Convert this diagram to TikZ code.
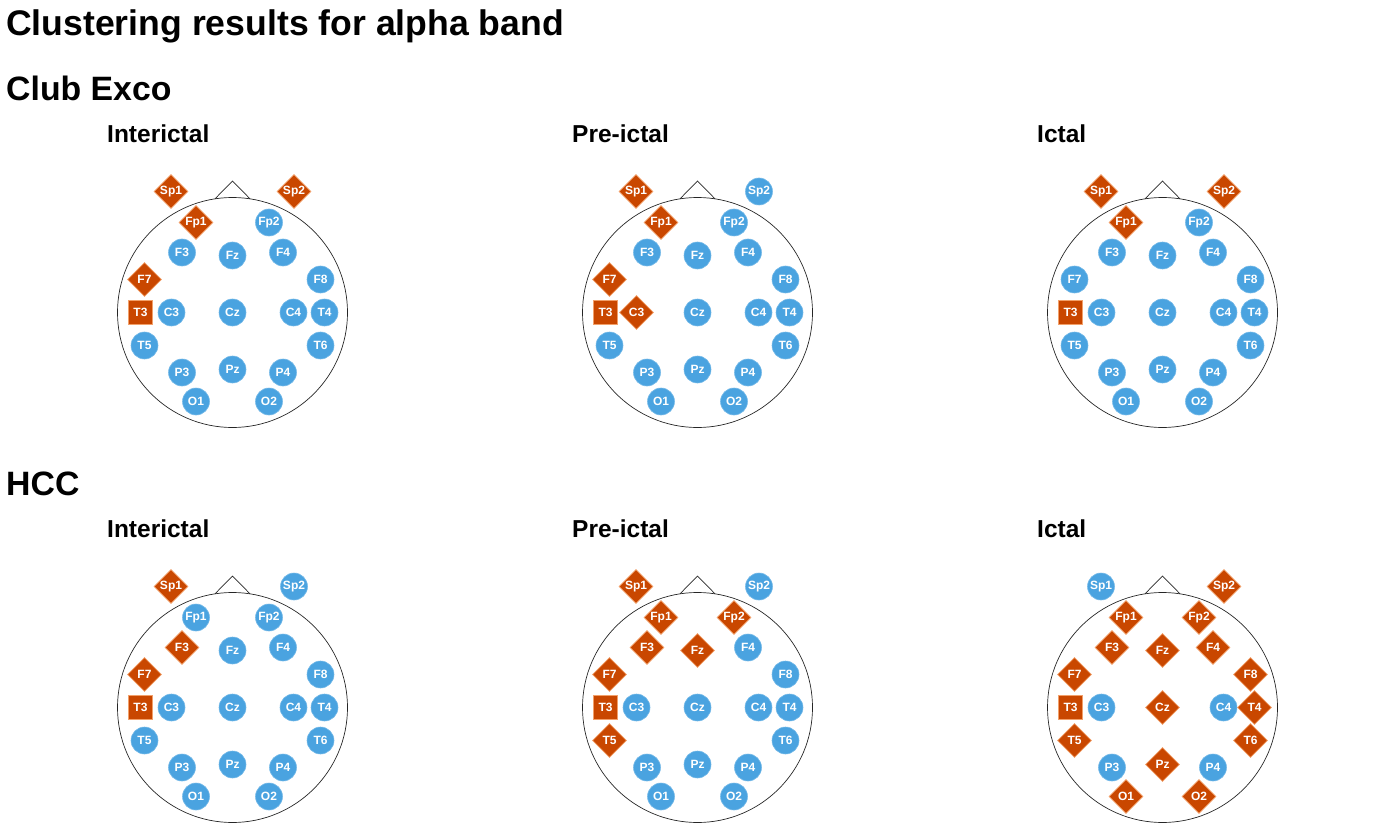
\documentclass[tikz,border=0pt]{standalone}
\usepackage{fontspec}
\setmainfont{Liberation Sans}
\usepackage{tikz}
\usetikzlibrary{shapes.geometric}
\definecolor{eblue}{HTML}{4AA3E0}
\definecolor{ered}{HTML}{C94700}
\definecolor{eredrim}{HTML}{F2A06A}
\tikzset{
  headln/.style     = {black!85, line width=0.7pt},
  elabel/.style     = {text=white, inner sep=0pt, font=\bfseries\fontsize{12}{12}\selectfont},
  ecirc/.style      = {elabel, circle, fill=eblue, draw=eblue!75!white, line width=0.6pt, minimum size=27pt},
  edia/.style       = {elabel, diamond, aspect=1, fill=ered, draw=eredrim, line width=0.6pt, minimum size=34pt},
  esq/.style        = {elabel, rectangle, fill=ered, draw=eredrim, line width=0.6pt, minimum size=24pt},
  maintitle/.style  = {anchor=base west, inner sep=0pt, font=\bfseries\fontsize{35.6}{40}\selectfont},
  grouptitle/.style = {anchor=base west, inner sep=0pt, font=\bfseries\fontsize{33.8}{38}\selectfont},
  phasetitle/.style = {anchor=base west, inner sep=0pt, font=\bfseries\fontsize{24.5}{28}\selectfont}
}
% electrode sites, relative to the head centre
\newcommand{\eegsites}{Sp1/-61.5/-121, Sp2/61.5/-121, Fp1/-36.5/-90, Fp2/36.5/-90,
  F3/-50.5/-60, Fz/0/-57, F4/50.5/-60, F7/-88/-33, F8/88/-33,
  T3/-92/0, C3/-61/0, Cz/0/0, C4/61/0, T4/92/0, T5/-88/33, T6/88/33,
  P3/-50.5/60, Pz/0/57, P4/50.5/60, O1/-36.5/89, O2/36.5/89}
% #1 name, #2 #3 centre, #4 blue sites, #5 diamond sites
\newcommand{\eeghead}[5]{%
  \begin{scope}[shift={(#2,#3)}]
    \draw[headln] (0,0) circle (115pt);
    \draw[headln] (-17.5,-113.7) -- (0,-131.5) -- (17.5,-113.7);
    \foreach \e/\ex/\ey in \eegsites
      \coordinate (#1\e) at (\ex,\ey);
  \end{scope}
  \foreach \e in {#4} \node[ecirc] (#1n\e) at (#1\e) {\e};
  \foreach \e in {#5} \node[edia] (#1n\e) at (#1\e) {\e};
  \node[esq] (#1nT3) at (#1T3) {T3};
}

\begin{document}
\begin{tikzpicture}[x=1pt,y=-1pt]
  \useasboundingbox (0,0) rectangle (1395,837);
  % headings
  \node[maintitle] (title) at (6,36) {Clustering results for alpha band};
  \node[grouptitle] (club) at (6,101) {Club Exco};
  \node[grouptitle] (hcc) at (6,495) {HCC};
  \node[phasetitle] (clubinter) at (107,142.5) {Interictal};
  \node[phasetitle] (clubpre) at (572,142.5) {Pre-ictal};
  \node[phasetitle] (clubictal) at (1037,142.5) {Ictal};
  \node[phasetitle] (hccinter) at (107,537) {Interictal};
  \node[phasetitle] (hccpre) at (572,537) {Pre-ictal};
  \node[phasetitle] (hccictal) at (1037,537) {Ictal};
  % Club Exco
  \eeghead{ca}{232.5}{312.5}
    {Fp2,F3,Fz,F4,F8,C3,Cz,C4,T4,T5,T6,P3,Pz,P4,O1,O2}
    {Sp1,Sp2,Fp1,F7}
  \eeghead{cb}{697.5}{312.5}
    {Sp2,Fp2,F3,Fz,F4,F8,Cz,C4,T4,T5,T6,P3,Pz,P4,O1,O2}
    {Sp1,Fp1,F7,C3}
  \eeghead{cc}{1162.5}{312.5}
    {Fp2,F3,Fz,F4,F7,F8,C3,Cz,C4,T4,T5,T6,P3,Pz,P4,O1,O2}
    {Sp1,Sp2,Fp1}
  % HCC
  \eeghead{ha}{232.5}{707.5}
    {Sp2,Fp1,Fp2,Fz,F4,F8,C3,Cz,C4,T4,T5,T6,P3,Pz,P4,O1,O2}
    {Sp1,F3,F7}
  \eeghead{hb}{697.5}{707.5}
    {Sp2,F4,F8,C3,Cz,C4,T4,T6,P3,Pz,P4,O1,O2}
    {Sp1,Fp1,Fp2,F3,Fz,F7,T5}
  \eeghead{hc}{1162.5}{707.5}
    {Sp1,C3,C4,P3,P4}
    {Sp2,Fp1,Fp2,F3,Fz,F4,F7,F8,Cz,T4,T5,T6,Pz,O1,O2}
\end{tikzpicture}
\end{document}
